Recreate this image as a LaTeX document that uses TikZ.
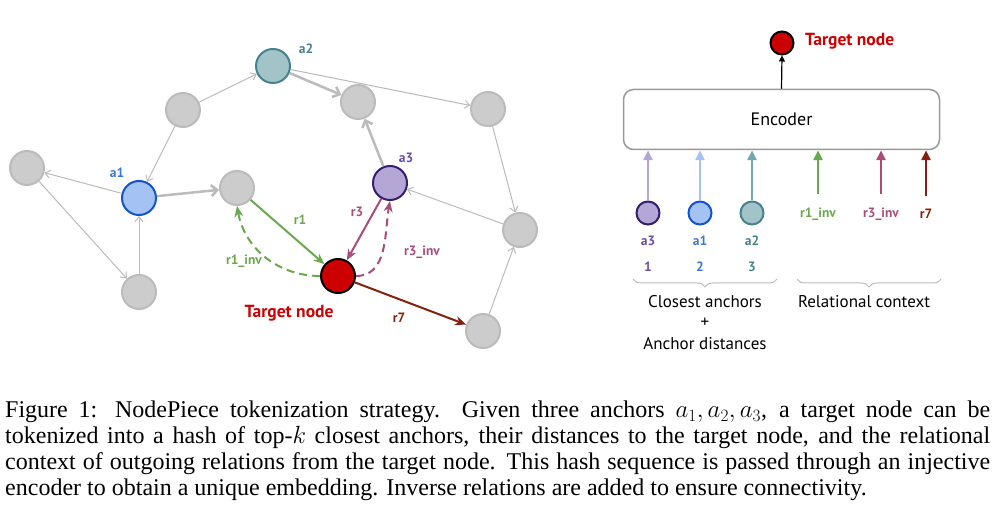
\documentclass[tikz,border=0pt]{standalone}
\usepackage{fontspec}
\setmainfont{PT Sans}
\newfontfamily\capfont{Liberation Serif}
\usepackage{xcolor}
\usetikzlibrary{arrows.meta,decorations.pathreplacing,positioning}

\definecolor{nodegray}{HTML}{CCCCCC}
\definecolor{grayline}{HTML}{BBBBBB}
\definecolor{a1fill}{HTML}{A4C2F4}
\definecolor{a1line}{HTML}{1155CC}
\definecolor{a1text}{HTML}{3C78D8}
\definecolor{a2fill}{HTML}{A2C4C9}
\definecolor{a2line}{HTML}{45818E}
\definecolor{a2arrow}{HTML}{76A5AF}
\definecolor{a3fill}{HTML}{B4A7D6}
\definecolor{a3line}{HTML}{351C75}
\definecolor{a3text}{HTML}{674EA7}
\definecolor{targetred}{HTML}{CC0000}
\definecolor{relgreen}{HTML}{6AA84F}
\definecolor{relpurple}{HTML}{A64D79}
\definecolor{relbrown}{HTML}{85200C}
\definecolor{boxgray}{HTML}{999999}

\begin{document}
\begin{tikzpicture}[x=1pt, y=-1pt]

  % Define styles for nodes and edges
  \tikzstyle{plain} = [circle, draw=grayline, fill=nodegray, line width=2pt, minimum size=34pt, inner sep=0pt]
  \tikzstyle{anchornode} = [circle, line width=2pt, minimum size=34pt, inner sep=0pt]
  \tikzstyle{token} = [circle, line width=2pt, minimum size=23pt, inner sep=0pt]
  \tikzstyle{lbl} = [font=\fontsize{13.5}{15}\selectfont\bfseries, inner sep=1pt]
  \tikzstyle{title} = [font=\fontsize{17.5}{20}\selectfont\bfseries, text=targetred, inner sep=1pt]
  \tikzstyle{caption} = [font=\fontsize{17}{20}\selectfont, inner sep=0pt]
  \tikzstyle{lightedge} = [draw=grayline, line width=1pt, -{Straight Barb[length=5pt,width=8pt]}]
  \tikzstyle{heavyedge} = [draw=grayline, line width=2.5pt, -{Straight Barb[length=6pt,width=11pt]}]
  \tikzstyle{rel} = [line width=2pt, -{Stealth[length=11pt,width=9pt]}]
  \tikzstyle{inarrow} = [line width=2.5pt, -{Triangle[length=10pt,width=9pt]}]

  \useasboundingbox (0,0) rectangle (1008,518);

  % Graph nodes
  \node[plain] (v1) at (27,168) {};
  \node[anchornode, draw=a1line, fill=a1fill] (a1) at (139,198) {};
  \node[plain] (v2) at (139,292) {};
  \node[plain] (v3) at (183,110) {};
  \node[anchornode, draw=a2line, fill=a2fill] (a2) at (273,66) {};
  \node[plain] (v4) at (237,188) {};
  \node[plain] (v5) at (358,102) {};
  \node[plain] (v6) at (488,109) {};
  \node[anchornode, draw=a3line, fill=a3fill] (a3) at (390,183) {};
  \node[anchornode, draw=black, fill=targetred] (tgt) at (338,276) {};
  \node[plain] (v7) at (520,230) {};
  \node[plain] (v8) at (483,331) {};

  % Anchor labels
  \node[lbl, text=a1text] at (117,173) {a1};
  \node[lbl, text=a2line] at (306,49) {a2};
  \node[lbl, text=a3text] at (406,158) {a3};
  \node[title] at (289,313) {Target node};

  % Gray edges
  \draw[lightedge] (a1) -- (v1);
  \draw[lightedge] (v1) -- (v2);
  \draw[lightedge] (v2) -- (a1);
  \draw[lightedge] (v3) -- (a1);
  \draw[lightedge] (v3) -- (a2);
  \draw[lightedge] (a2) -- (v6);
  \draw[lightedge] (v6) -- (v7);
  \draw[lightedge] (v7) -- (a3);
  \draw[lightedge] (v8) -- (v7);
  \draw[heavyedge] (a1) -- (v4);
  \draw[heavyedge] (a2) -- (v5);
  \draw[heavyedge] (a3) -- (v5);

  % Relations of the target node
  \draw[rel, relgreen] (v4) -- (tgt);
  \node[lbl, text=relgreen] at (300,220) {r1};
  \draw[rel, relgreen, dashed, dash pattern=on 8pt off 5pt] (tgt.west) to[out=180, in=-80] (v4.south);
  \node[lbl, text=relgreen] at (244,261) {r1\_inv};
  \draw[rel, relpurple] (a3) -- (tgt);
  \node[lbl, text=relpurple] at (357,212) {r3};
  \draw[rel, relpurple, dashed, dash pattern=on 8pt off 5pt] (tgt.east) to[out=0, in=-100] (a3.south);
  \node[lbl, text=relpurple] at (422,252) {r3\_inv};
  \draw[rel, relbrown] (tgt) -- (v8);
  \node[lbl, text=relbrown] at (399,318) {r7};

  % Encoder
  \node[draw=boxgray, line width=1.5pt, rounded corners=10pt, minimum width=316pt, minimum height=60pt, font=\fontsize{18}{20}\selectfont] (enc) at (781.5,119.5) {Encoder};
  \node[token, draw=black, fill=targetred] (out) at (782,43) {};
  \node[title, anchor=west] at (804,41) {Target node};
  \draw[line width=1.2pt, -{Triangle[length=6pt,width=6pt]}] (enc.north) -- (out.south);

  % Tokens: closest anchors
  \node[token, draw=a3line, fill=a3fill] (t1) at (648,213) {};
  \node[token, draw=a1line, fill=a1fill] (t2) at (700,213) {};
  \node[token, draw=a2line, fill=a2fill] (t3) at (752,213) {};
  \node[lbl, text=a3text] at (648,241) {a3};
  \node[lbl, text=a1text] at (700,241) {a1};
  \node[lbl, text=a2line] at (752,241) {a2};
  \node[lbl, text=a3text] at (648,267) {1};
  \node[lbl, text=a1text] at (700,267) {2};
  \node[lbl, text=a2line] at (752,267) {3};
  \draw[inarrow, a3fill] (t1.north) -- (t1.north |- enc.south);
  \draw[inarrow, a1fill] (t2.north) -- (t2.north |- enc.south);
  \draw[inarrow, a2arrow] (t3.north) -- (t3.north |- enc.south);

  % Tokens: relational context
  \node[lbl, text=relgreen] (t4) at (818,214) {r1\_inv};
  \node[lbl, text=relpurple] (t5) at (881,214) {r3\_inv};
  \node[lbl, text=relbrown] (t6) at (926,214) {r7};
  \draw[inarrow, relgreen] ([yshift=12pt]t4.north) -- (t4.north |- enc.south);
  \draw[inarrow, relpurple] ([yshift=12pt]t5.north) -- (t5.north |- enc.south);
  \draw[inarrow, relbrown] ([yshift=12pt]t6.north) -- (t6.north |- enc.south);

  % Braces
  \draw[grayline, line width=1pt, decorate, decoration={brace, mirror, amplitude=8pt}] (633,279) -- (777,279);
  \draw[grayline, line width=1pt, decorate, decoration={brace, mirror, amplitude=8pt}] (797,279) -- (941,279);
  \node[caption] at (705,302) {Closest anchors};
  \node[caption] at (705,323) {+};
  \node[caption] at (705,344) {Anchor distances};
  \node[caption] at (864,302) {Relational context};

  % Figure caption
  \node[anchor=north west, inner sep=0pt, text width=985pt, align=justify, font=\capfont\fontsize{24}{25.8}\selectfont] (figcap) at (5,401) {Figure 1: NodePiece tokenization strategy.\ \ Given three anchors $\smash{a_1, a_2, a_3}$, a target node can be\linebreak tokenized into a hash of top-$k$ closest anchors, their distances to the target node, and the relational\linebreak context of outgoing relations from the target node. This hash sequence is passed through an injective\linebreak encoder to obtain a unique embedding. Inverse relations are added to ensure connectivity.};

\end{tikzpicture}
\end{document}
